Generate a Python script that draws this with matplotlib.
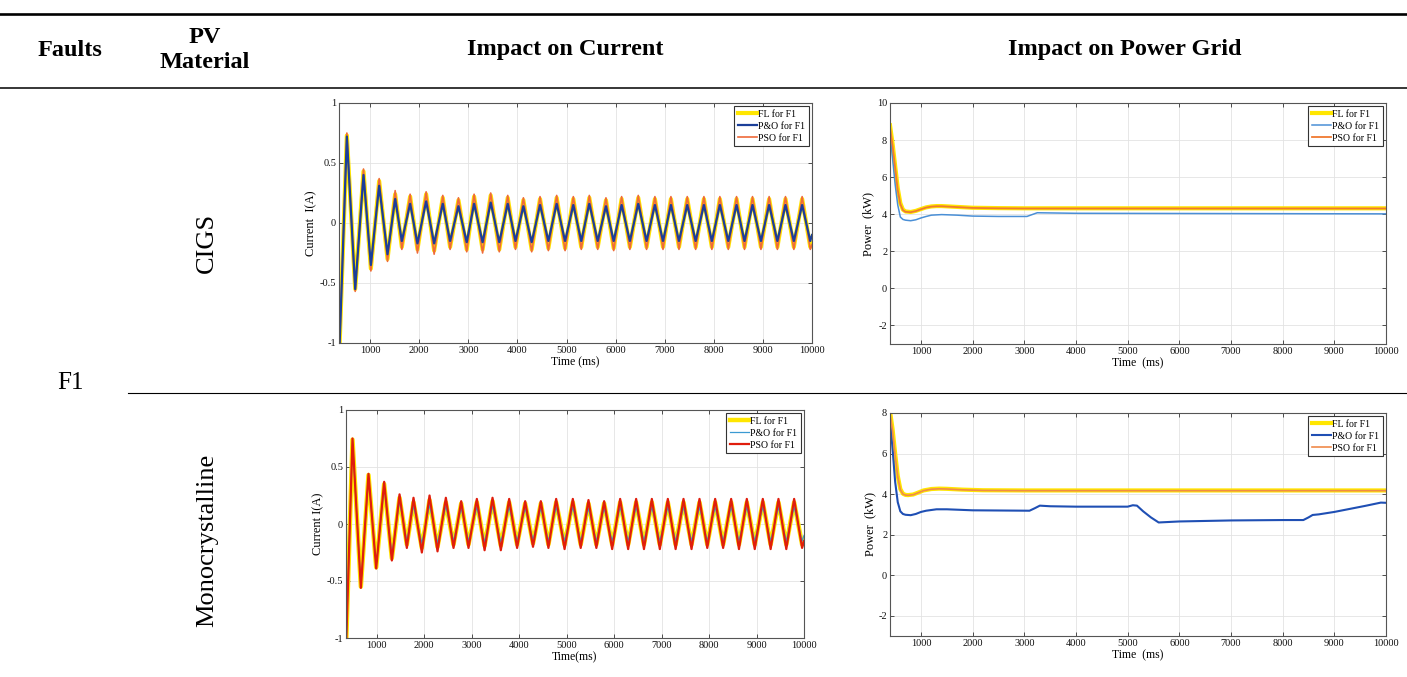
import matplotlib
matplotlib.use("Agg")
import matplotlib.pyplot as plt
import numpy as np
from matplotlib.lines import Line2D

plt.rcParams["font.family"] = ["Liberation Serif", "DejaVu Serif"]
plt.rcParams["axes.unicode_minus"] = False

W, H = 1407, 677

# ---- CIGS current (peaks / troughs) ----
cigs_peak_t = [525, 864, 1183, 1509, 1814, 2140, 2479, 2798, 3117, 3455, 3802, 4121, 4460, 4799, 5138,
               5464, 5803, 6122, 6461, 6800, 7126, 7459, 7798, 8123, 8463, 8788, 9127, 9460, 9799]
cigs_trough_t = [695, 1014, 1353, 1645, 1963, 2303, 2628, 2967, 3290, 3630, 3960, 4290, 4630, 4970, 5300,
                 5635, 5960, 6290, 6630, 6965, 7290, 7630, 7960, 8295, 8625, 8960, 9295, 9630, 9965]
cigs_ends_t = [370, 10000]

cigs_fl_peak = [0.73, 0.43, 0.35, 0.24, 0.22, 0.24, 0.21, 0.19, 0.22, 0.23, 0.21, 0.19, 0.20, 0.21, 0.20,
                0.21, 0.19, 0.20, 0.21, 0.20, 0.20, 0.20, 0.20, 0.20, 0.20, 0.20, 0.20, 0.20, 0.20]
cigs_fl_trough = [-0.55, -0.38, -0.30, -0.20, -0.22, -0.23, -0.20, -0.22, -0.22, -0.22, -0.20, -0.22, -0.21, -0.21, -0.20,
                  -0.20, -0.21, -0.20, -0.20, -0.20, -0.20, -0.20, -0.20, -0.20, -0.20, -0.20, -0.20, -0.20, -0.20]
cigs_fl_ends = [-1.10, -0.17]

cigs_pso_peak = [0.75, 0.45, 0.37, 0.27, 0.24, 0.26, 0.23, 0.21, 0.24, 0.25, 0.23, 0.21, 0.22, 0.23, 0.22,
                 0.23, 0.21, 0.22, 0.23, 0.22, 0.22, 0.22, 0.22, 0.22, 0.22, 0.22, 0.22, 0.22, 0.22]
cigs_pso_trough = [-0.57, -0.40, -0.32, -0.22, -0.25, -0.26, -0.22, -0.24, -0.25, -0.24, -0.22, -0.24, -0.23, -0.23, -0.22,
                   -0.22, -0.23, -0.22, -0.22, -0.22, -0.22, -0.22, -0.22, -0.22, -0.22, -0.22, -0.22, -0.22, -0.22]
cigs_pso_ends = [-1.10, -0.18]

cigs_po_peak = [0.72, 0.40, 0.31, 0.20, 0.16, 0.18, 0.16, 0.14, 0.16, 0.17, 0.16, 0.14, 0.15, 0.16, 0.15,
                0.16, 0.14, 0.15, 0.16, 0.15, 0.15, 0.15, 0.15, 0.15, 0.15, 0.15, 0.15, 0.15, 0.15]
cigs_po_trough = [-0.55, -0.35, -0.26, -0.15, -0.17, -0.17, -0.15, -0.16, -0.16, -0.16, -0.15, -0.16, -0.15, -0.15, -0.15,
                  -0.15, -0.15, -0.15, -0.15, -0.15, -0.15, -0.15, -0.15, -0.15, -0.15, -0.15, -0.15, -0.15, -0.15]
cigs_po_ends = [-1.10, -0.10]

# ---- Monocrystalline current ----
mono_peak_t = [487, 824, 1154, 1478, 1772, 2110, 2454, 2777, 3107, 3437, 3788, 4125, 4455, 4778, 5129,
               5459, 5789, 6126, 6463, 6794, 7131, 7461, 7798, 8128, 8465, 8795, 9132, 9462, 9792]
mono_trough_t = [663, 986, 1316, 1632, 1948, 2278, 2615, 2931, 3270, 3612, 3955, 4290, 4615, 4955, 5295,
                 5625, 5958, 6295, 6628, 6962, 7295, 7630, 7962, 8296, 8630, 8962, 9297, 9627, 9960]
mono_ends_t = [350, 10000]

mono_fl_peak = [0.74, 0.43, 0.35, 0.23, 0.19, 0.21, 0.19, 0.18, 0.19, 0.20, 0.19, 0.18, 0.18, 0.19, 0.19,
                0.18, 0.18, 0.19, 0.19, 0.19, 0.19, 0.19, 0.19, 0.19, 0.19, 0.19, 0.19, 0.19, 0.19]
mono_fl_trough = [-0.55, -0.38, -0.30, -0.18, -0.21, -0.20, -0.18, -0.18, -0.19, -0.19, -0.18, -0.17, -0.18, -0.18, -0.18,
                  -0.18, -0.18, -0.18, -0.18, -0.18, -0.18, -0.18, -0.18, -0.18, -0.18, -0.18, -0.18, -0.18, -0.18]
mono_fl_ends = [-1.10, -0.14]

mono_pso_peak = [0.75, 0.44, 0.37, 0.26, 0.23, 0.25, 0.23, 0.20, 0.22, 0.23, 0.22, 0.20, 0.20, 0.22, 0.22,
                 0.21, 0.20, 0.22, 0.22, 0.22, 0.22, 0.22, 0.22, 0.22, 0.22, 0.22, 0.22, 0.22, 0.22]
mono_pso_trough = [-0.56, -0.39, -0.32, -0.21, -0.25, -0.24, -0.21, -0.21, -0.23, -0.23, -0.21, -0.20, -0.21, -0.22, -0.21,
                   -0.21, -0.22, -0.22, -0.22, -0.22, -0.22, -0.22, -0.21, -0.21, -0.22, -0.22, -0.22, -0.22, -0.21]
mono_pso_ends = [-1.10, -0.15]

mono_po_peak = [0.73, 0.41, 0.32, 0.20, 0.16, 0.17, 0.16, 0.14, 0.15, 0.16, 0.15, 0.14, 0.14, 0.15, 0.15,
                0.14, 0.14, 0.15, 0.15, 0.15, 0.15, 0.15, 0.15, 0.15, 0.15, 0.15, 0.15, 0.15, 0.15]
mono_po_trough = [-0.54, -0.36, -0.27, -0.15, -0.17, -0.17, -0.15, -0.15, -0.16, -0.16, -0.15, -0.14, -0.15, -0.15, -0.15,
                  -0.15, -0.15, -0.15, -0.15, -0.15, -0.15, -0.15, -0.15, -0.15, -0.15, -0.15, -0.15, -0.15, -0.15]
mono_po_ends = [-1.10, -0.10]

# ---- CIGS power grid ----
pc_fl_t = [400, 450, 500, 550, 600, 650, 700, 800, 900, 1000, 1100, 1200, 1300, 1400, 1600, 1800, 2000,
           2500, 3000, 4000, 6000, 8000, 10000]
pc_fl = [8.8, 7.8, 6.6, 5.4, 4.6, 4.25, 4.15, 4.12, 4.18, 4.28, 4.37, 4.42, 4.44, 4.44, 4.41, 4.38, 4.35,
         4.33, 4.32, 4.32, 4.32, 4.32, 4.32]
pc_pso = [8.7, 7.7, 6.5, 5.3, 4.55, 4.22, 4.13, 4.11, 4.17, 4.27, 4.36, 4.41, 4.43, 4.43, 4.40, 4.37, 4.34,
          4.32, 4.31, 4.31, 4.31, 4.31, 4.31]
pc_po_t = [400, 450, 500, 550, 600, 650, 700, 800, 900, 1000, 1100, 1200, 1400, 1700, 2000, 2500, 3050,
           3150, 3250, 3500, 4000, 6000, 8000, 10000]
pc_po = [8.3, 7.0, 5.6, 4.5, 3.85, 3.72, 3.68, 3.65, 3.70, 3.80, 3.88, 3.95, 3.98, 3.95, 3.90, 3.88, 3.88,
         3.98, 4.08, 4.07, 4.05, 4.04, 4.03, 4.02]

# ---- Monocrystalline power grid ----
pm_fl_t = [400, 450, 500, 550, 600, 650, 700, 750, 850, 950, 1050, 1200, 1350, 1500, 1800, 2200, 3000, 10000]
pm_fl = [8.1, 7.2, 6.0, 4.9, 4.25, 4.02, 3.96, 3.95, 3.98, 4.08, 4.18, 4.25, 4.27, 4.26, 4.22, 4.19, 4.18, 4.18]
pm_pso = [8.0, 7.1, 5.9, 4.85, 4.22, 4.0, 3.95, 3.94, 3.97, 4.07, 4.17, 4.24, 4.26, 4.25, 4.21, 4.18, 4.17, 4.17]
pm_po_t = [400, 450, 500, 550, 600, 650, 700, 800, 900, 1000, 1100, 1300, 1500, 2000, 3100, 3200, 3300, 3500,
           4000, 5000, 5100, 5180, 5300, 5450, 5600, 6000, 7000, 8000, 8400, 8500, 8580, 8700, 9000, 9300,
           9600, 9900, 10000]
pm_po = [7.7, 6.2, 4.6, 3.6, 3.15, 3.02, 2.98, 2.96, 3.02, 3.12, 3.18, 3.25, 3.25, 3.20, 3.18, 3.30, 3.43, 3.40,
         3.38, 3.38, 3.45, 3.43, 3.15, 2.85, 2.60, 2.65, 2.70, 2.72, 2.72, 2.85, 2.97, 3.00, 3.12, 3.27,
         3.42, 3.58, 3.57]

x_ticks = [1000, 2000, 3000, 4000, 5000, 6000, 7000, 8000, 9000, 10000]
legend_order = ["FL for F1", "P&O for F1", "PSO for F1"]


def trace(ends_t, peak_t, trough_t, ends_v, peak_v, trough_v):
    t = [ends_t[0]] + [v for pair in zip(peak_t, trough_t) for v in pair] + [ends_t[1]]
    y = [ends_v[0]] + [v for pair in zip(peak_v, trough_v) for v in pair] + [ends_v[1]]
    return np.array(t), np.array(y)


def make_axes(fig, left, top, right, bottom):
    ax = fig.add_axes([left / W, 1 - bottom / H, (right - left) / W, (bottom - top) / H])
    ax.grid(True, color="#e3e3e3", linewidth=0.6)
    ax.set_axisbelow(True)
    ax.tick_params(direction="in", top=True, right=True, length=3, width=0.6,
                   labelsize=7.5, pad=2, colors="#333333", labelcolor="#111111")
    for sp in ax.spines.values():
        sp.set_color("#555555")
        sp.set_linewidth(0.8)
    ax.set_xticks(x_ticks)
    return ax


def style_legend(ax):
    handles, labels = ax.get_legend_handles_labels()
    lookup = dict(zip(labels, handles))
    leg = ax.legend([lookup[k] for k in legend_order], legend_order, loc="upper right", fontsize=7,
                    handlelength=2.0, handletextpad=0.1, borderpad=0.35, labelspacing=0.3,
                    fancybox=False, framealpha=1, edgecolor="#333333", borderaxespad=0.35)
    leg.get_frame().set_linewidth(0.8)


fig = plt.figure(figsize=(W / 100, H / 100), dpi=100)

# table rules
fig.add_artist(Line2D([0, 1], [1 - 14 / H, 1 - 14 / H], transform=fig.transFigure, color="black", lw=1.9))
fig.add_artist(Line2D([0, 1], [1 - 88 / H, 1 - 88 / H], transform=fig.transFigure, color="black", lw=1.1))
fig.add_artist(Line2D([128 / W, 1], [1 - 393 / H, 1 - 393 / H], transform=fig.transFigure, color="black", lw=0.8))

hdr = dict(ha="center", va="center", fontsize=17.5, fontweight="bold")
fig.text(70 / W, 1 - 50 / H, "Faults", **hdr)
fig.text(205 / W, 1 - 50 / H, "PV\nMaterial", linespacing=1.3, **hdr)
fig.text(565 / W, 1 - 50 / H, "Impact on Current", **hdr)
fig.text(1125 / W, 1 - 50 / H, "Impact on Power Grid", **hdr)
fig.text(70 / W, 1 - 383 / H, "F1", ha="center", va="center", fontsize=18)
fig.text(207 / W, 1 - 243 / H, "CIGS", ha="center", va="center", fontsize=19, rotation=90)
fig.text(207 / W, 1 - 540 / H, "Monocrystalline", ha="center", va="center", fontsize=19, rotation=90)

# CIGS current
ax1 = make_axes(fig, 339, 103, 812, 343)
t, y = trace(cigs_ends_t, cigs_peak_t, cigs_trough_t, cigs_fl_ends, cigs_fl_peak, cigs_fl_trough)
ax1.plot(t, y, color="#ffe600", lw=3.0, label="FL for F1")
t, y = trace(cigs_ends_t, cigs_peak_t, cigs_trough_t, cigs_pso_ends, cigs_pso_peak, cigs_pso_trough)
ax1.plot(t, y, color="#ef6a3a", lw=1.2, label="PSO for F1")
t, y = trace(cigs_ends_t, cigs_peak_t, cigs_trough_t, cigs_po_ends, cigs_po_peak, cigs_po_trough)
ax1.plot(t, y, color="#1b3f99", lw=1.6, label="P&O for F1")
ax1.set_xlim(365, 10000)
ax1.set_ylim(-1, 1)
ax1.set_yticks([-1, -0.5, 0, 0.5, 1])
ax1.set_yticklabels(["-1", "-0.5", "0", "0.5", "1"])
ax1.set_xlabel("Time (ms)", fontsize=8.5, labelpad=1)
ax1.set_ylabel("Current  I(A)", fontsize=9, labelpad=2)
style_legend(ax1)

# CIGS power
ax2 = make_axes(fig, 890, 103, 1386, 344)
ax2.plot(pc_fl_t, pc_fl, color="#ffe600", lw=3.0, label="FL for F1")
ax2.plot(pc_po_t, pc_po, color="#4a8fd6", lw=1.1, label="P&O for F1")
ax2.plot(pc_fl_t, pc_pso, color="#f07a30", lw=1.3, label="PSO for F1")
ax2.set_xlim(400, 10000)
ax2.set_ylim(-3, 10)
ax2.set_yticks([-2, 0, 2, 4, 6, 8, 10])
ax2.set_xlabel("Time  (ms)", fontsize=8.5, labelpad=1)
ax2.set_ylabel("Power  (kW)", fontsize=9, labelpad=2)
style_legend(ax2)

# Monocrystalline current
ax3 = make_axes(fig, 346, 410, 804, 638)
t, y = trace(mono_ends_t, mono_peak_t, mono_trough_t, mono_fl_ends, mono_fl_peak, mono_fl_trough)
ax3.plot(t, y, color="#ffe600", lw=3.2, label="FL for F1")
t, y = trace(mono_ends_t, mono_peak_t, mono_trough_t, mono_po_ends, mono_po_peak, mono_po_trough)
ax3.plot(t, y, color="#3b9ad2", lw=0.9, label="P&O for F1")
t, y = trace(mono_ends_t, mono_peak_t, mono_trough_t, mono_pso_ends, mono_pso_peak, mono_pso_trough)
ax3.plot(t, y, color="#e01d0c", lw=1.6, label="PSO for F1")
ax3.set_xlim(350, 10000)
ax3.set_ylim(-1, 1)
ax3.set_yticks([-1, -0.5, 0, 0.5, 1])
ax3.set_yticklabels(["-1", "-0.5", "0", "0.5", "1"])
ax3.set_xlabel("Time(ms)", fontsize=8.5, labelpad=1)
ax3.set_ylabel("Current I(A)", fontsize=9, labelpad=2)
style_legend(ax3)

# Monocrystalline power
ax4 = make_axes(fig, 890, 413, 1386, 636)
ax4.plot(pm_fl_t, pm_fl, color="#ffe600", lw=3.0, label="FL for F1")
ax4.plot(pm_po_t, pm_po, color="#1f4fb4", lw=1.5, label="P&O for F1")
ax4.plot(pm_fl_t, pm_pso, color="#f08a4a", lw=1.2, label="PSO for F1")
ax4.set_xlim(400, 10000)
ax4.set_ylim(-3, 8)
ax4.set_yticks([-2, 0, 2, 4, 6, 8])
ax4.set_xlabel("Time  (ms)", fontsize=8.5, labelpad=1)
ax4.set_ylabel("Power  (kW)", fontsize=9, labelpad=2)
style_legend(ax4)

fig.savefig("out.png", dpi=100)
